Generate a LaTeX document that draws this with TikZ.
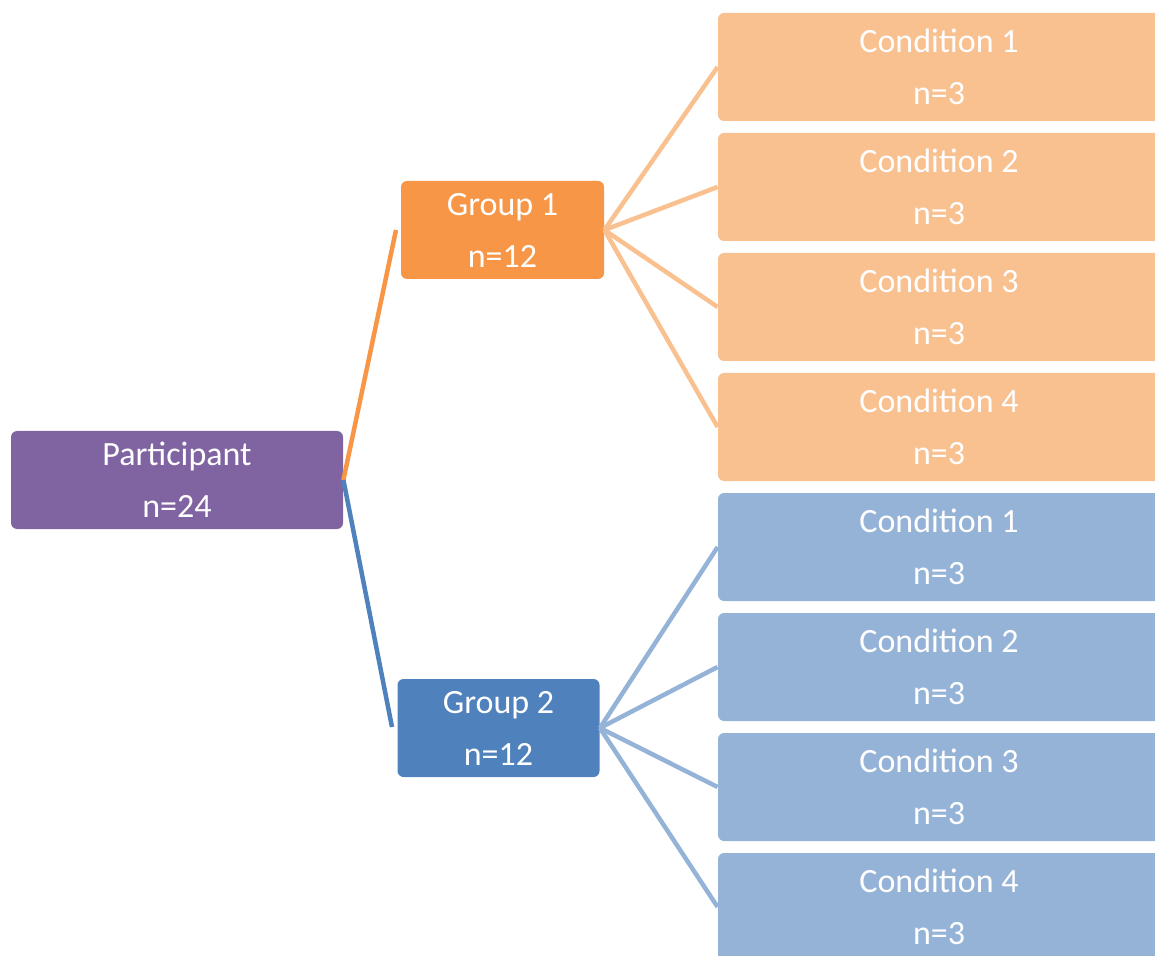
\documentclass[tikz,border=0pt]{standalone}
\usepackage{fontspec}
\setmainfont{Carlito}

\newlength{\du}
\setlength{\du}{0.5pt}

\definecolor{partcolor}{HTML}{8064A2}
\definecolor{grponecolor}{HTML}{F79646}
\definecolor{grptwocolor}{HTML}{4F81BD}
\definecolor{condonecolor}{HTML}{F9C090}
\definecolor{condtwocolor}{HTML}{95B3D7}

\tikzset{
  box/.style={rounded corners=6\du, inner sep=0pt, minimum height=98\du,
    text=white, align=center, font=\fontsize{17}{26}\selectfont},
  condbox/.style={box, minimum width=442\du, minimum height=108\du},
  link/.style={line width=4.5\du}
}

\begin{document}
\begin{tikzpicture}
\pgftransformyscale{-1.000000}
\clip (0\du,0\du) rectangle (1155\du,956\du);
% participant and groups
\node[box, fill=partcolor, minimum width=332\du] (part) at (177\du,480\du) {Participant\\n=24};
\node[box, fill=grponecolor, minimum width=203\du] (grpone) at (502.5\du,230\du) {Group 1\\n=12};
\node[box, fill=grptwocolor, minimum width=202\du] (grptwo) at (498.5\du,728\du) {Group 2\\n=12};
\coordinate (grponein) at (396\du,230\du);
\coordinate (grptwoin) at (392\du,727\du);
\draw[link, draw=grponecolor] (part.east) -- (grponein);
\draw[link, draw=grptwocolor] (part.east) -- (grptwoin);
% conditions of group 1
\foreach \i in {1,...,4}{
  \pgfmathsetmacro{\ypos}{67+120*(\i-1)}
  \node[condbox, fill=condonecolor] (condone\i) at (939\du,\ypos\du) {Condition \i\\n=3};
  \draw[link, draw=condonecolor] (grpone.east) -- (condone\i.west);
}
% conditions of group 2
\foreach \i in {1,...,4}{
  \pgfmathsetmacro{\ypos}{547+120*(\i-1)}
  \node[condbox, fill=condtwocolor] (condtwo\i) at (939\du,\ypos\du) {Condition \i\\n=3};
  \draw[link, draw=condtwocolor] (grptwo.east) -- (condtwo\i.west);
}
\end{tikzpicture}
\end{document}
